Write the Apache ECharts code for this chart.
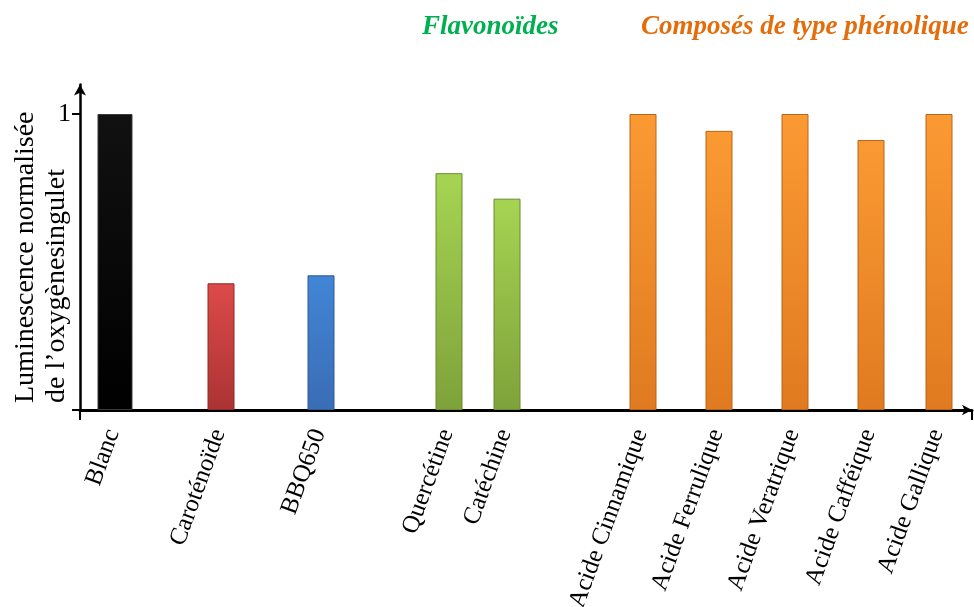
<!DOCTYPE html>
<html>
<head>
<meta charset="utf-8">
<script src="https://cdn.jsdelivr.net/npm/echarts@6/dist/echarts.min.js"></script>
<style>html,body{margin:0;padding:0;background:#fff}#c{width:974px;height:607px}</style>
</head>
<body>
<div id="c"></div>
<script>
// ---- data ----
const categories = ['Blanc','Caroténoïde','BBQ650','Quercétine','Catéchine','Acide Cinnamique','Acide Ferrulique','Acide Veratrique','Acide Cafféique','Acide Gallique'];
const values = [1, 0.428, 0.455, 0.800, 0.714, 1, 0.943, 1, 0.912, 1];
const groups = ['blanc','caro','bbq','flavo','flavo','phen','phen','phen','phen','phen'];
const yTickValues = [0, 1];
const yLabelValues = [1];
const groupTitles = ['Flavonoïdes', 'Composés de type phénolique'];
const yAxisTitle = ['Luminescence normalisée', 'de l’oxygènesingulet'];

// ---- layout (not data) ----
const SLOT_COUNT = 446;
const slotOf = [16, 69, 119, 183, 212, 280, 318, 356, 394, 428];
const palette = {
  blanc: ['#111111', '#000000', '#3a3a3a'],
  caro:  ['#dd4a4a', '#ab3333', '#8e2a2a'],
  bbq:   ['#4285d6', '#3a6db5', '#2f5a96'],
  flavo: ['#a6d452', '#7ea23a', '#6a8a30'],
  phen:  ['#fb9a33', '#e07a20', '#b8641a']
};

const axisCats = new Array(SLOT_COUNT).fill('');
const dataBlanc = new Array(SLOT_COUNT).fill(null);
const dataOthers = new Array(SLOT_COUNT).fill(null);
categories.forEach((name, i) => {
  const s = slotOf[i];
  axisCats[s] = name;
  const p = palette[groups[i]];
  const item = {
    value: values[i],
    itemStyle: {
      color: new echarts.graphic.LinearGradient(0, 0, 0, 1, [
        {offset: 0, color: p[0]}, {offset: 1, color: p[1]}
      ]),
      borderColor: p[2],
      borderWidth: 1
    }
  };
  if (i === 0) dataBlanc[s] = item; else dataOthers[s] = item;
});

const chart = echarts.init(document.getElementById('c'));
const serif = 'Liberation Serif, Times New Roman, serif';
chart.setOption({
  animation: false,
  grid: {left: 80, right: 2, top: 84.4, bottom: 197, containLabel: false, outerBoundsMode: 'none'},
  xAxis: {
    type: 'category',
    data: axisCats,
    boundaryGap: true,
    axisLine: {lineStyle: {color: '#000', width: 3}, symbol: ['none', 'arrow'], symbolSize: [8, 10]},
    axisTick: {show: true, interval: (i) => i === 0, length: 10, lineStyle: {color: '#000', width: 2}},
    axisLabel: {interval: 0, rotate: 70, fontSize: 25, fontFamily: serif, color: '#000', margin: 20}
  },
  yAxis: {
    type: 'value',
    min: 0, max: 1.1,
    splitLine: {show: false},
    axisLine: {show: true, lineStyle: {color: '#000', width: 2.5}, symbol: ['none', 'arrow'], symbolSize: [9, 11]},
    axisTick: {show: true, customValues: yTickValues, length: 8, lineStyle: {color: '#000', width: 2}},
    axisLabel: {customValues: yLabelValues, fontSize: 26, fontFamily: serif, color: '#000', margin: 9}
  },
  series: [
    {type: 'bar', data: dataBlanc, barWidth: 35, barGap: '-88.57%'},
    {type: 'bar', data: dataOthers, barWidth: 27, barGap: '-88.57%'}
  ],
  graphic: [
    {type: 'text', left: 422, top: 14, style: {text: groupTitles[0], fill: '#00b050', font: 'italic bold 27px ' + serif}},
    {type: 'text', left: 641, top: 14, style: {text: groupTitles[1], fill: '#e46c0a', font: 'italic bold 27px ' + serif}},
    {type: 'text', x: 10, y: 403, rotation: Math.PI / 2,
     style: {text: yAxisTitle.join('\n'), fill: '#000', font: '28px ' + serif, lineHeight: 31, align: 'left', verticalAlign: 'top'}}
  ]
});
</script>
</body>
</html>
